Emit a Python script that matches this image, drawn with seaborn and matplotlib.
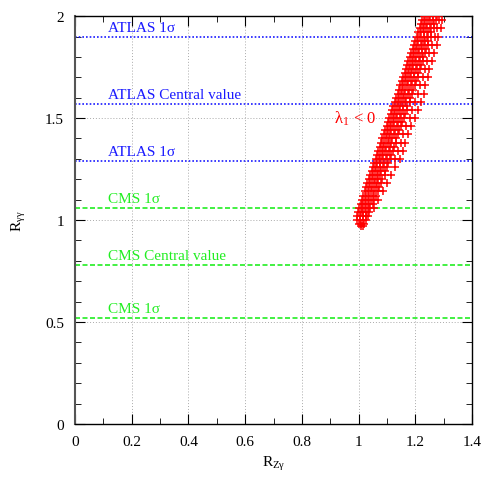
import seaborn as sns
import numpy as np
import pandas as pd
import matplotlib.pyplot as plt
from matplotlib.ticker import MultipleLocator

# experimental reference lines
ref_names = ['ATLAS 1σ', 'ATLAS Central value', 'ATLAS 1σ',
             'CMS 1σ', 'CMS Central value', 'CMS 1σ']
ref_values = [1.90, 1.57, 1.29, 1.06, 0.78, 0.52]
ref_colors = ['#1a1aff', '#1a1aff', '#1a1aff', '#22ee22', '#22ee22', '#22ee22']
ref_styles = [(0, (1, 1.2)), (0, (1, 1.2)), (0, (1, 1.2)),
              (0, (3, 1.5)), (0, (3, 1.5)), (0, (3, 1.5))]

row_y = [0.97, 1.00, 1.02, 1.06, 1.10, 1.14, 1.18, 1.22, 1.26, 1.30, 1.34,
         1.38, 1.42, 1.46, 1.50, 1.54, 1.58, 1.62, 1.66, 1.70, 1.74, 1.78,
         1.82, 1.86, 1.90, 1.94, 1.98]
row_x = [
    [1.008, 1.016],
    [0.995, 1.005, 1.015, 1.025],
    [0.995, 1.005, 1.015, 1.025, 1.035],
    [1.002, 1.012, 1.022, 1.032, 1.042, 1.055],
    [1.012, 1.022, 1.032, 1.044, 1.056, 1.070],
    [1.022, 1.032, 1.044, 1.056, 1.070, 1.085],
    [1.031, 1.042, 1.054, 1.066, 1.080, 1.100],
    [1.041, 1.052, 1.064, 1.077, 1.092, 1.115],
    [1.051, 1.062, 1.074, 1.087, 1.102, 1.130],
    [1.060, 1.071, 1.083, 1.096, 1.112, 1.130, 1.145],
    [1.070, 1.081, 1.093, 1.106, 1.122, 1.140, 1.155],
    [1.080, 1.091, 1.103, 1.116, 1.132, 1.150, 1.165],
    [1.089, 1.100, 1.112, 1.125, 1.140, 1.158, 1.175],
    [1.099, 1.110, 1.122, 1.135, 1.150, 1.168, 1.185],
    [1.109, 1.120, 1.132, 1.145, 1.160, 1.180, 1.200],
    [1.118, 1.129, 1.141, 1.155, 1.170, 1.190, 1.210],
    [1.128, 1.139, 1.151, 1.165, 1.180, 1.200, 1.220],
    [1.138, 1.149, 1.161, 1.175, 1.190, 1.210, 1.230],
    [1.147, 1.158, 1.170, 1.184, 1.200, 1.218, 1.235],
    [1.157, 1.168, 1.180, 1.194, 1.210, 1.228, 1.245],
    [1.167, 1.178, 1.190, 1.204, 1.218, 1.235, 1.250],
    [1.176, 1.187, 1.199, 1.212, 1.226, 1.243, 1.260],
    [1.186, 1.197, 1.209, 1.222, 1.236, 1.250, 1.265],
    [1.196, 1.207, 1.219, 1.232, 1.246, 1.260, 1.275],
    [1.206, 1.217, 1.229, 1.242, 1.256, 1.268, 1.280],
    [1.215, 1.226, 1.238, 1.251, 1.265, 1.278, 1.290],
    [1.225, 1.236, 1.248, 1.261, 1.274, 1.285, 1.295],
]

# denser core of the band, between the rows above
core_y = [0.98, 1.04, 1.08, 1.12, 1.16, 1.20, 1.24, 1.28, 1.32, 1.36, 1.40,
          1.44, 1.48, 1.52, 1.56, 1.60, 1.64, 1.68, 1.72, 1.76, 1.80, 1.84,
          1.88, 1.92, 1.96, 2.00]
core_x = [
    [1.000, 1.010, 1.020],
    [0.998, 1.007, 1.017, 1.027, 1.038],
    [1.007, 1.017, 1.027, 1.038, 1.050],
    [1.017, 1.027, 1.038, 1.050, 1.062],
    [1.026, 1.037, 1.048, 1.060, 1.073],
    [1.036, 1.047, 1.058, 1.070, 1.084],
    [1.046, 1.057, 1.068, 1.080, 1.094],
    [1.055, 1.066, 1.077, 1.090, 1.104],
    [1.065, 1.076, 1.087, 1.100, 1.114],
    [1.075, 1.086, 1.097, 1.110, 1.124],
    [1.084, 1.095, 1.106, 1.119, 1.133],
    [1.094, 1.105, 1.116, 1.129, 1.143],
    [1.104, 1.115, 1.126, 1.139, 1.153],
    [1.113, 1.124, 1.135, 1.148, 1.162],
    [1.123, 1.134, 1.145, 1.158, 1.172],
    [1.133, 1.144, 1.155, 1.168, 1.182],
    [1.142, 1.153, 1.164, 1.177, 1.191],
    [1.152, 1.163, 1.174, 1.187, 1.201],
    [1.162, 1.173, 1.184, 1.197, 1.210],
    [1.171, 1.182, 1.193, 1.206, 1.219],
    [1.181, 1.192, 1.203, 1.216, 1.228],
    [1.191, 1.202, 1.213, 1.225, 1.237],
    [1.200, 1.211, 1.222, 1.234, 1.246],
    [1.210, 1.221, 1.232, 1.244, 1.255],
    [1.220, 1.231, 1.242, 1.254, 1.265],
    [1.230, 1.241, 1.252, 1.264, 1.275],
]

xs, ys = [], []
for y, row in zip(row_y + core_y, row_x + core_x):
    xs += row
    ys += [y] * len(row)
scan = pd.DataFrame({'R_Zg': xs, 'R_gg': ys})

plt.rcParams['font.family'] = ['Liberation Serif', 'DejaVu Serif']
plt.rcParams['mathtext.fontset'] = 'stix'

fig = plt.figure(figsize=(5, 4.89), dpi=100)
ax = fig.add_axes([0.15, 0.131, 0.794, 0.834])

for val, name, col, ls in zip(ref_values, ref_names, ref_colors, ref_styles):
    ax.axhline(val, color=col, ls=ls, lw=1.2, zorder=2)
    ax.text(0.115, val + 0.012, name, color=col, fontsize=11,
            ha='left', va='bottom', zorder=3)

sns.scatterplot(data=scan, x='R_Zg', y='R_gg', marker='+', color='red',
                s=28, linewidth=1.1, ax=ax, zorder=4, legend=False)

ax.text(0.915, 1.50, 'λ$_{\\mathregular{1}}$ < 0', color='red', fontsize=12,
        ha='left', va='center')

ax.set_xlim(0, 1.4)
ax.set_ylim(0, 2)
ax.xaxis.set_minor_locator(MultipleLocator(0.1))
ax.yaxis.set_minor_locator(MultipleLocator(0.1))
ax.set_xticks(np.arange(0, 1.41, 0.2))
ax.set_xticklabels(['0', '0.2', '0.4', '0.6', '0.8', '1', '1.2', '1.4'])
ax.set_yticks([0, 0.5, 1, 1.5, 2])
ax.set_yticklabels(['0', '0.5', '1', '1.5', '2'])
ax.tick_params(which='both', direction='in', top=True, right=True,
               labelsize=11, pad=8)
ax.tick_params(which='major', length=7)
ax.tick_params(which='minor', length=4)
ax.grid(which='major', color='#aaaaaa', ls=(0, (1, 2)), lw=0.7)
ax.set_axisbelow(True)
for sp in ax.spines.values():
    sp.set_linewidth(1.0)
ax.spines['left'].set_color('#555555')
ax.spines['left'].set_linewidth(1.5)

ax.set_xlabel('R$_{\\mathregular{Zγ}}$', fontsize=11)
ax.set_ylabel('R$_{\\mathregular{γγ}}$', fontsize=11, labelpad=12)

fig.savefig('out.png', dpi=100)
